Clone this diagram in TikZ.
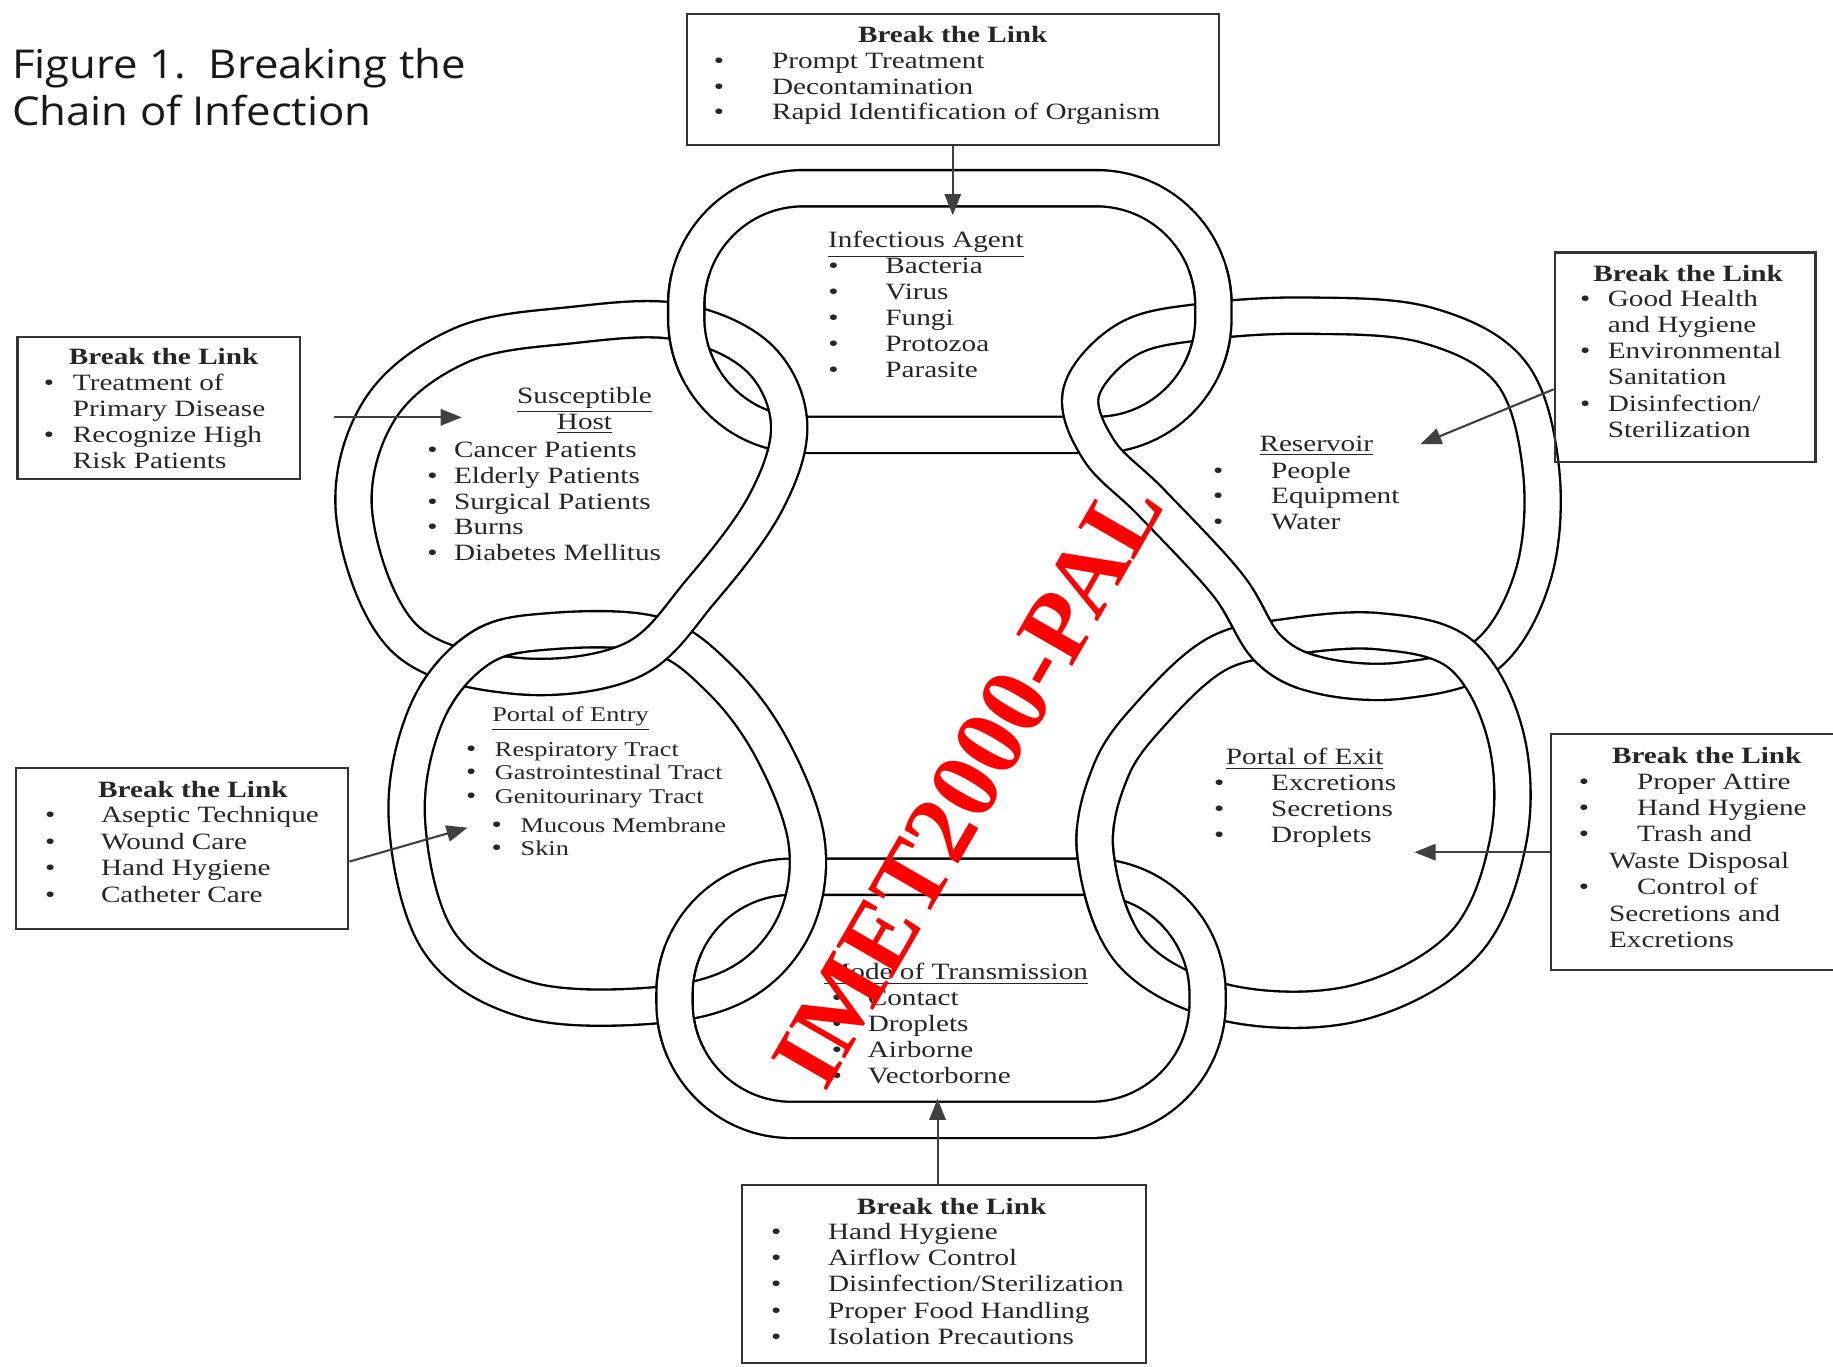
\documentclass[tikz,border=0pt]{standalone}
\usepackage{fontspec}
\setmainfont{Liberation Serif}[FakeStretch=1.25]
\newfontfamily\titlefont{Open Sans}[FakeStretch=1.1]
\newfontfamily\stampfont{Liberation Serif}
\usetikzlibrary{arrows.meta,fit}

\tikzset{
  chainlink/.style={line width=1pt, double=white, double distance=14.5pt},
  linkrim/.style={line width=16.5pt, draw=black},
  linkcore/.style={line width=14.5pt, draw=white},
  brkbox/.style={draw=black!80, line width=0.9pt, inner sep=0pt},
  brkarrow/.style={draw=black!75, line width=0.9pt, -{Triangle[length=9pt,width=7pt]}},
  itm/.style={anchor=base west, inner sep=0pt, text=black!85, font=\fontsize{10}{11}\selectfont},
  smallitm/.style={itm, font=\fontsize{9}{10}\selectfont},
  bul/.style={anchor=base, inner sep=0pt, text=black!85, font=\fontsize{10}{11}\selectfont},
  hd/.style={anchor=base, inner sep=0pt, text=black!85, font=\fontsize{10}{11}\selectfont\bfseries},
  ttl/.style={anchor=base, inner sep=0pt, text=black!85, font=\fontsize{10}{11}\selectfont},
  figttl/.style={anchor=base west, inner sep=0pt, text=black!90, font=\titlefont\fontsize{17}{20}\selectfont},
  stamp/.style={inner sep=0pt, text=red, font=\stampfont\bfseries\fontsize{42}{42}\selectfont}
}

% the six links of the chain
\newcommand*{\agentlink}[1][chainlink]{\draw[#1, rounded corners=50pt] (587,161) rectangle (1038,372);}
\newcommand*{\modelink}[1][chainlink]{\draw[#1, rounded corners=50pt] (577,750) rectangle (1033,958);}
\newcommand*{\hostlink}[1][chainlink]{\draw[#1] plot[smooth cycle, tension=0.6] coordinates {(303,440) (325,350) (395,295) (490,278) (580,275) (648,305) (675,362) (655,430) (600,505) (540,565) (440,578) (345,545)};}
\newcommand*{\entrylink}[1][chainlink]{\draw[#1] plot[smooth cycle, tension=0.6] coordinates {(348,700) (365,610) (410,555) (470,540) (560,543) (615,580) (660,640) (690,720) (680,790) (635,840) (560,860) (450,855) (375,805)};}
\newcommand*{\reslink}[1][chainlink]{\draw[#1] plot[smooth cycle, tension=0.6] coordinates {(1030,275) (1120,270) (1220,278) (1292,318) (1318,400) (1312,490) (1272,560) (1200,582) (1130,578) (1085,555) (1050,500) (985,430) (940,385) (925,335) (965,290)};}
\newcommand*{\exitlink}[1][chainlink]{\draw[#1] plot[smooth cycle, tension=0.6] coordinates {(985,610) (1040,560) (1100,545) (1180,540) (1250,560) (1288,630) (1290,720) (1252,808) (1160,858) (1050,858) (968,815) (937,730) (950,660)};}
% lay a link back on top around one crossing
\newcommand*{\overat}[2]{%
  \begin{scope} \clip #2 circle (24pt); #1[linkrim] \end{scope}
  \begin{scope} \clip #2 circle (25.5pt); #1[linkcore] \end{scope}}

\begin{document}
\begin{tikzpicture}[x=0.5pt, y=-0.5pt]
  \useasboundingbox (0,0) rectangle (1568,1169);

  \node[figttl] (fig1) at (10,67) {Figure 1.\ \ Breaking the};
  \node[figttl] (fig2) at (10,107) {Chain of Infection};

  % links, each later one on top
  \agentlink
  \reslink
  \exitlink
  \modelink
  \entrylink
  \hostlink

  % the lower link of each pair goes over at one of its two crossings
  \overat{\agentlink}{(587,278)}
  \overat{\agentlink}{(1040,274)}
  \overat{\reslink}{(1082,550)}
  \overat{\exitlink}{(944,750)}
  \overat{\modelink}{(577,857)}
  \overat{\entrylink}{(400,566)}

  % Infectious Agent
  \node[ttl] (agent) at (792,212) {\underline{Infectious Agent}};
  \foreach \txt [count=\k from 0] in {Bacteria, Virus, Fungi, Protozoa, Parasite}
  {
    \node[bul] (agb\k) at (713,234+22.3*\k) {\textbullet};
    \node[itm] (agi\k) at (757,234+22.3*\k) {\txt};
  }

  % Susceptible Host
  \node[ttl] (host1) at (500,345) {\underline{Susceptible}};
  \node[ttl] (host2) at (500,367) {\underline{Host}};
  \foreach \txt [count=\k from 0] in {Cancer Patients, Elderly Patients, Surgical Patients, Burns, Diabetes Mellitus}
  {
    \node[bul] (hob\k) at (370,391+22.2*\k) {\textbullet};
    \node[itm] (hoi\k) at (388,391+22.2*\k) {\txt};
  }

  % Reservoir
  \node[ttl] (res) at (1126,386) {\underline{Reservoir}};
  \foreach \txt [count=\k from 0] in {People, Equipment, Water}
  {
    \node[bul] (reb\k) at (1042,409+22*\k) {\textbullet};
    \node[itm] (rei\k) at (1087,409+22*\k) {\txt};
  }

  % Portal of Exit
  \node[ttl] (exit) at (1116,654) {\underline{Portal of Exit}};
  \foreach \txt [count=\k from 0] in {Excretions, Secretions, Droplets}
  {
    \node[bul] (exb\k) at (1043,676+22.5*\k) {\textbullet};
    \node[itm] (exi\k) at (1087,676+22.5*\k) {\txt};
  }

  % Portal of Entry
  \node[ttl, font=\fontsize{9}{10}\selectfont] (entry) at (488,617) {\underline{Portal of Entry}};
  \foreach \txt [count=\k from 0] in {Respiratory Tract, Gastrointestinal Tract, Genitourinary Tract}
  {
    \node[bul] (enb\k) at (403,647+20*\k) {\textbullet};
    \node[smallitm] (eni\k) at (423,647+20*\k) {\txt};
  }
  \foreach \txt [count=\k from 0] in {Mucous Membrane, Skin}
  {
    \node[bul] (enc\k) at (425,712+20*\k) {\textbullet};
    \node[smallitm] (enj\k) at (445,712+20*\k) {\txt};
  }

  % Mode of Transmission
  \node[ttl] (mode) at (818,838) {\underline{Mode of Transmission}};
  \foreach \txt [count=\k from 0] in {Contact, Droplets, Airborne, Vectorborne}
  {
    \node[bul] (mob\k) at (716,860+22.3*\k) {\textbullet};
    \node[itm] (moi\k) at (742,860+22.3*\k) {\txt};
  }

  % Break the Link boxes
  \node[brkbox, fit={(588,12) (1043,124)}] (brkA) {};
  \node[hd] (brkAh) at (815,36) {Break the Link};
  \foreach \txt [count=\k from 0] in {Prompt Treatment, Decontamination, Rapid Identification of Organism}
  {
    \node[bul] (brkAb\k) at (615,59+21.5*\k) {\textbullet};
    \node[itm] (brkAi\k) at (660,59+21.5*\k) {\txt};
  }

  \node[brkbox, fit={(1330,216) (1553,395)}] (brkR) {};
  \node[hd] (brkRh) at (1444,241) {Break the Link};
  \foreach \txt [count=\k from 0] in {Good Health, and Hygiene, Environmental, Sanitation, Disinfection/, Sterilization}
    \node[itm] (brkRi\k) at (1375,262+22.4*\k) {\txt};
  \foreach \k in {0,2,4}
    \node[bul] (brkRb\k) at (1356,262+22.4*\k) {\textbullet};

  \node[brkbox, fit={(15,288) (257,410)}] (brkH) {};
  \node[hd] (brkHh) at (140,312) {Break the Link};
  \foreach \txt [count=\k from 0] in {Treatment of, Primary Disease, Recognize High, Risk Patients}
    \node[itm] (brkHi\k) at (62,334+22.3*\k) {\txt};
  \foreach \k in {0,2}
    \node[bul] (brkHb\k) at (42,334+22.3*\k) {\textbullet};

  \node[brkbox, fit={(14,657) (298,795)}] (brkE) {};
  \node[hd] (brkEh) at (165,682) {Break the Link};
  \foreach \txt [count=\k from 0] in {Aseptic Technique, Wound Care, Hand Hygiene, Catheter Care}
  {
    \node[bul] (brkEb\k) at (43,704+22.6*\k) {\textbullet};
    \node[itm] (brkEi\k) at (86,704+22.6*\k) {\txt};
  }

  \node[brkbox, fit={(1327,628) (1580,830)}] (brkX) {};
  \node[hd] (brkXh) at (1460,653) {Break the Link};
  \foreach \txt/\xx [count=\k from 0] in {Proper Attire/1400, Hand Hygiene/1400, Trash and/1400, Waste Disposal/1376, Control of/1400, Secretions and/1376, Excretions/1376}
    \node[itm] (brkXi\k) at (\xx,675+22.6*\k) {\txt};
  \foreach \k in {0,1,2,4}
    \node[bul] (brkXb\k) at (1355,675+22.6*\k) {\textbullet};

  \node[brkbox, fit={(635,1014) (980,1166)}] (brkM) {};
  \node[hd] (brkMh) at (814,1039) {Break the Link};
  \foreach \txt [count=\k from 0] in {Hand Hygiene, Airflow Control, Disinfection/Sterilization, Proper Food Handling, Isolation Precautions}
  {
    \node[bul] (brkMb\k) at (664,1060+22.5*\k) {\textbullet};
    \node[itm] (brkMi\k) at (708,1060+22.5*\k) {\txt};
  }

  % arrows into the links
  \coordinate (tipA) at (815,184);
  \coordinate (tipH) at (395,357);
  \coordinate (tipR) at (1215,380);
  \coordinate (tipE) at (400,708);
  \coordinate (tipX) at (1210,729);
  \coordinate (tipM) at (802,940);
  \draw[brkarrow] (brkA.south -| tipA) -- (tipA);
  \draw[brkarrow, shorten <=14pt] (brkH.east |- tipH) -- (tipH);
  \draw[brkarrow] ([yshift=-13.75pt]brkR.west) -- (tipR);
  \draw[brkarrow] ([yshift=-5.5pt]brkE.east) -- (tipE);
  \draw[brkarrow] (brkX.west |- tipX) -- (tipX);
  \draw[brkarrow] (brkM.north -| tipM) -- (tipM);

  \node[stamp, rotate=60] (stampmark) at (828,670) {IMET2000-PAL};
\end{tikzpicture}
\end{document}
